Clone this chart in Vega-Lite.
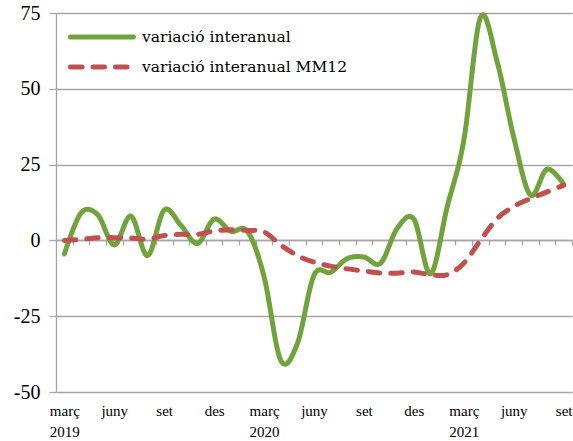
{
  "$schema": "https://vega.github.io/schema/vega-lite/v6.json",
  "width": 516,
  "height": 379,
  "autosize": {"type": "none"},
  "padding": {"left": 56, "top": 13, "right": 1, "bottom": 49},
  "background": "white",
  "config": {
    "view": {"stroke": null},
    "font": "Liberation Serif"
  },
  "data": {
    "values": [
      {"mes": "2019-03", "interanual": -4.5, "mm12": 0.0},
      {"mes": "2019-04", "interanual": 9.0, "mm12": 0.3},
      {"mes": "2019-05", "interanual": 8.5, "mm12": 0.9},
      {"mes": "2019-06", "interanual": -1.5, "mm12": 0.9},
      {"mes": "2019-07", "interanual": 8.0, "mm12": 0.8},
      {"mes": "2019-08", "interanual": -5.0, "mm12": 0.4},
      {"mes": "2019-09", "interanual": 10.0, "mm12": 1.6},
      {"mes": "2019-10", "interanual": 5.0, "mm12": 2.0},
      {"mes": "2019-11", "interanual": -1.0, "mm12": 2.0},
      {"mes": "2019-12", "interanual": 7.0, "mm12": 3.1},
      {"mes": "2020-01", "interanual": 3.0, "mm12": 3.5},
      {"mes": "2020-02", "interanual": 3.0, "mm12": 3.3},
      {"mes": "2020-03", "interanual": -12.0, "mm12": 2.8},
      {"mes": "2020-04", "interanual": -39.5, "mm12": -1.5},
      {"mes": "2020-05", "interanual": -34.0, "mm12": -5.0},
      {"mes": "2020-06", "interanual": -11.5, "mm12": -7.2},
      {"mes": "2020-07", "interanual": -10.5, "mm12": -8.5},
      {"mes": "2020-08", "interanual": -6.0, "mm12": -9.4},
      {"mes": "2020-09", "interanual": -5.5, "mm12": -10.1},
      {"mes": "2020-10", "interanual": -7.5, "mm12": -10.8},
      {"mes": "2020-11", "interanual": 4.0, "mm12": -10.8},
      {"mes": "2020-12", "interanual": 7.0, "mm12": -10.4},
      {"mes": "2021-01", "interanual": -11.0, "mm12": -11.3},
      {"mes": "2021-02", "interanual": 11.0, "mm12": -11.3},
      {"mes": "2021-03", "interanual": 33.0, "mm12": -7.5},
      {"mes": "2021-04", "interanual": 73.5, "mm12": 0.0},
      {"mes": "2021-05", "interanual": 59.0, "mm12": 7.2},
      {"mes": "2021-06", "interanual": 34.0, "mm12": 11.2},
      {"mes": "2021-07", "interanual": 15.0, "mm12": 13.8},
      {"mes": "2021-08", "interanual": 23.5, "mm12": 16.0},
      {"mes": "2021-09", "interanual": 18.5, "mm12": 18.2}
    ]
  },
  "layer": [
    {
      "mark": {"type": "line", "strokeWidth": 5, "interpolate": "cardinal", "tension": 0, "strokeCap": "round", "strokeJoin": "round"},
      "encoding": {
        "x": {
          "field": "mes", "type": "ordinal", "sort": null,
          "scale": {"type": "point", "padding": 0.5},
          "axis": {
            "orient": "bottom", "title": null, "domain": false, "ticks": false, "grid": false,
            "labelExpr": "substring(datum.value,5,7)=='03' ? ['març', substring(datum.value,0,4)] : substring(datum.value,5,7)=='06' ? 'juny' : substring(datum.value,5,7)=='09' ? 'set' : substring(datum.value,5,7)=='12' ? 'des' : ''",
            "labelAngle": 0, "labelAlign": "center", "labelBaseline": "top", "labelPadding": 11,
            "labelFont": "Liberation Serif", "labelFontSize": 15, "labelLineHeight": 21, "labelColor": "#000000",
            "labelOverlap": false, "labelBound": false, "labelFlush": false
          }
        },
        "y": {
          "field": "interanual", "type": "quantitative",
          "scale": {"domain": [-50, 75], "nice": false, "zero": false},
          "axis": {
            "title": null, "values": [-50, -25, 0, 25, 50, 75], "grid": true,
            "labelExpr": "'' + datum.value",
            "gridColor": "#a6a6a6", "gridWidth": 1.3, "domainColor": "#a6a6a6", "domainWidth": 1.3,
            "tickColor": "#a6a6a6", "tickSize": 7, "tickWidth": 1.3,
            "labelFont": "Liberation Serif", "labelFontSize": 20, "labelPadding": 9, "labelColor": "#000000"
          }
        },
        "color": {
          "datum": "variació interanual", "type": "nominal",
          "scale": {"domain": ["variació interanual", "variació interanual MM12"], "range": ["#70A33B", "#C0504D"]},
          "legend": {
            "orient": "none", "legendX": 12, "legendY": 16, "title": null, "padding": 0,
            "symbolType": "stroke", "symbolSize": 3969, "symbolStrokeWidth": 5, "clipHeight": 16,
            "labelFont": "DejaVu Serif", "labelFontSize": 15.5, "labelColor": "#000000", "labelLimit": 400,
            "rowPadding": 13, "labelOffset": 6,
            "encode": {"symbols": {"update": {"strokeCap": {"value": "round"}}}}
          }
        },
        "strokeDash": {
          "datum": "variació interanual", "type": "nominal",
          "scale": {"domain": ["variació interanual", "variació interanual MM12"], "range": [[1, 0], [11.5, 11]]},
          "legend": {
            "orient": "none", "legendX": 12, "legendY": 16, "title": null, "padding": 0,
            "symbolType": "stroke", "symbolSize": 3969, "symbolStrokeWidth": 5, "clipHeight": 16,
            "labelFont": "DejaVu Serif", "labelFontSize": 15.5, "labelColor": "#000000", "labelLimit": 400,
            "rowPadding": 13, "labelOffset": 6,
            "encode": {"symbols": {"update": {"strokeCap": {"value": "round"}}}}
          }
        }
      }
    },
    {
      "mark": {"type": "line", "strokeWidth": 5, "interpolate": "cardinal", "tension": 0, "strokeCap": "round", "strokeJoin": "round"},
      "encoding": {
        "x": {
          "field": "mes", "type": "ordinal", "sort": null,
          "scale": {"type": "point", "padding": 0.5},
          "axis": {
            "orient": "bottom", "offset": -152, "title": null, "labels": false,
            "domain": true, "domainColor": "#a6a6a6", "domainWidth": 1.3,
            "ticks": true, "tickColor": "#a6a6a6", "tickSize": 5, "tickWidth": 1.3, "tickOffset": 8.32,
            "grid": false
          }
        },
        "y": {
          "field": "mm12", "type": "quantitative",
          "scale": {"domain": [-50, 75], "nice": false, "zero": false},
          "axis": {
            "title": null, "values": [-50, -25, 0, 25, 50, 75], "grid": true,
            "labelExpr": "'' + datum.value",
            "gridColor": "#a6a6a6", "gridWidth": 1.3, "domainColor": "#a6a6a6", "domainWidth": 1.3,
            "tickColor": "#a6a6a6", "tickSize": 7, "tickWidth": 1.3,
            "labelFont": "Liberation Serif", "labelFontSize": 20, "labelPadding": 9, "labelColor": "#000000"
          }
        },
        "color": {"datum": "variació interanual MM12", "type": "nominal"},
        "strokeDash": {"datum": "variació interanual MM12", "type": "nominal"}
      }
    }
  ],
  "resolve": {"axis": {"x": "independent"}}
}
